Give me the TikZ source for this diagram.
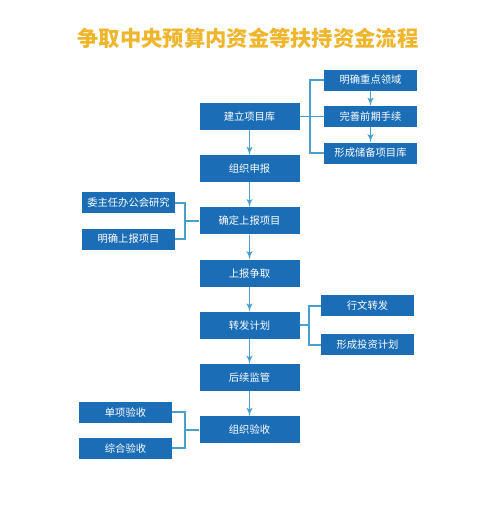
\documentclass[tikz,border=0pt]{standalone}
\usepackage{fontspec}
\setmainfont{Noto Sans CJK SC}
\usepackage{xcolor}
\usepackage{tikz}
\usetikzlibrary{shapes,arrows,positioning}

\definecolor{boxblue}{HTML}{1B6DB5}
\definecolor{linkblue}{HTML}{4AA0CC}
\definecolor{titlegold}{HTML}{EFB52C}

\begin{document}
\begin{tikzpicture}[node distance=52.2pt, auto]
  \tikzstyle{block} = [rectangle, fill=boxblue, text=white, font=\fontsize{10.3pt}{12pt}\selectfont, minimum width=100pt, minimum height=27pt, inner sep=0pt]
  \tikzstyle{sub} = [rectangle, fill=boxblue, text=white, font=\fontsize{10.3pt}{12pt}\selectfont, minimum width=93pt, minimum height=21pt, inner sep=0pt]
  \tikzstyle{line} = [draw=linkblue, line width=1.8pt, -latex']
  \tikzstyle{link} = [draw=linkblue, line width=1.8pt]

  \useasboundingbox (0pt,0pt) rectangle (500pt,-514pt);
  \node [font=\bfseries\fontsize{21.3pt}{24pt}\selectfont, text=titlegold] (title) at (248pt,-38.5pt) {争取中央预算内资金等扶持资金流程};

  % main column
  \node [block] (build) at (249.5pt,-116.5pt) {建立项目库};
  \node [block, below of=build] (apply) {组织申报};
  \node [block, below of=apply] (confirm) {确定上报项目};
  \node [block, below of=confirm] (report) {上报争取};
  \node [block, below of=report] (relay) {转发计划};
  \node [block, below of=relay] (supervise) {后续监管};
  \node [block, below of=supervise] (accept) {组织验收};

  % side boxes
  \node [sub, right of=build, node distance=121pt] (prepare) {完善前期手续};
  \node [sub, above of=prepare, node distance=36.5pt] (field) {明确重点领域};
  \node [sub, below of=prepare, node distance=36.5pt] (reserve) {形成储备项目库};
  \node [sub, left of=confirm, node distance=121pt, yshift=18.2pt] (meeting) {委主任办公会研究};
  \node [sub, left of=confirm, node distance=121pt, yshift=-18.2pt] (define) {明确上报项目};
  \node [sub, right of=relay, node distance=118pt, yshift=19.5pt] (document) {行文转发};
  \node [sub, right of=relay, node distance=118pt, yshift=-19.5pt] (invest) {形成投资计划};
  \node [sub, left of=accept, node distance=124pt, yshift=17.5pt] (single) {单项验收};
  \node [sub, left of=accept, node distance=124pt, yshift=-18.5pt] (overall) {综合验收};

  % junctions
  \coordinate [right of=build, node distance=60.5pt] (j1);
  \coordinate [left of=confirm, node distance=64.5pt] (j2);
  \coordinate [right of=relay, node distance=59.5pt] (j3);
  \coordinate [left of=accept, node distance=64.5pt] (j4);

  \path [line] (build) -- (apply);
  \path [line] (apply) -- (confirm);
  \path [line] (confirm) -- (report);
  \path [line] (report) -- (relay);
  \path [line] (relay) -- (supervise);
  \path [line] (supervise) -- (accept);
  \path [line] (field) -- (prepare);
  \path [line] (prepare) -- (reserve);

  \path [link] (build.east) -- (prepare.west);
  \path [link] (field.west) -| (j1) |- (reserve.west);
  \path [link] (confirm.west) -- (j2);
  \path [link] (meeting.east) -| (j2) |- (define.east);
  \path [link] (relay.east) -- (j3);
  \path [link] (document.west) -| (j3) |- (invest.west);
  \path [link] (accept.west) -- (j4);
  \path [link] (single.east) -| (j4) |- (overall.east);
\end{tikzpicture}
\end{document}
